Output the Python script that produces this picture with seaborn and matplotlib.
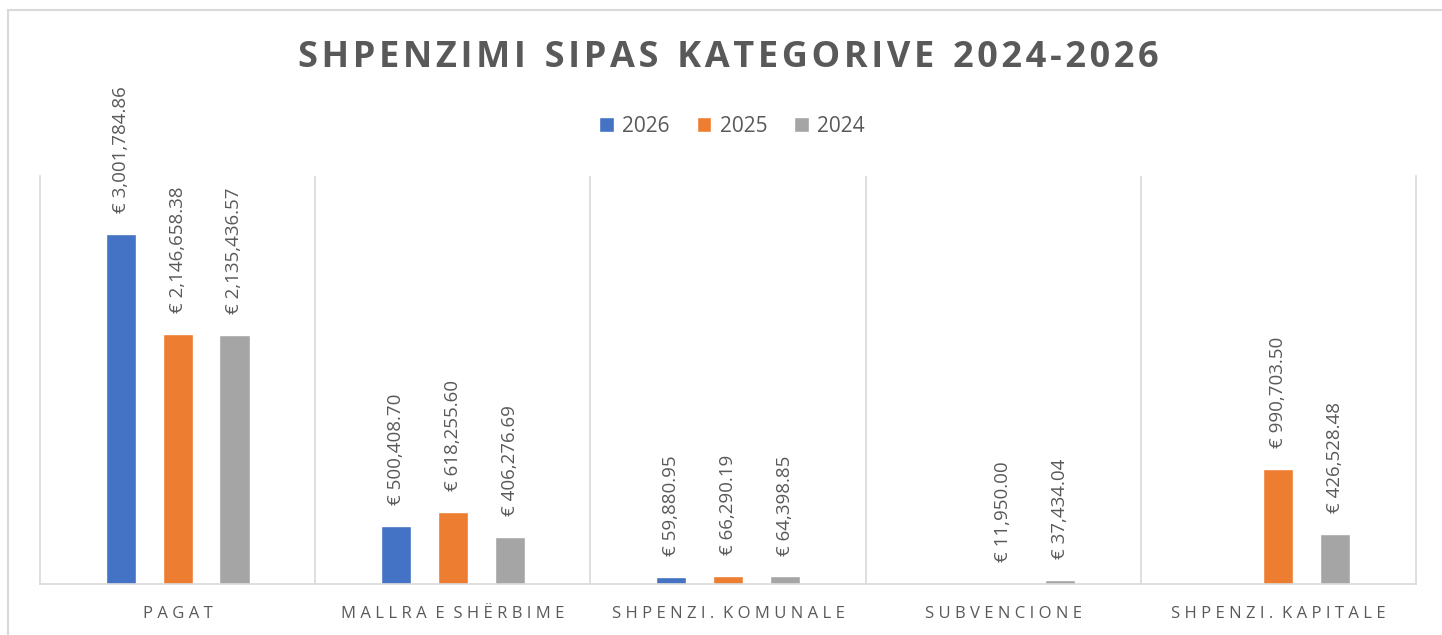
import pandas as pd
import numpy as np
import matplotlib
matplotlib.use("Agg")
import matplotlib.pyplot as plt
from matplotlib.patches import Rectangle
import seaborn as sns

# data
categories = ["PAGAT", "MALLRA E SHËRBIME", "SHPENZI. KOMUNALE", "SUBVENCIONE", "SHPENZI. KAPITALE"]
years = ["2026", "2025", "2024"]
vals_2026 = [3001784.86, 500408.70, 59880.95, np.nan, np.nan]
vals_2025 = [2146658.38, 618255.60, 66290.19, 11950.00, 990703.50]
vals_2024 = [2135436.57, 406276.69, 64398.85, 37434.04, 426528.48]
colors = ["#4472C4", "#ED7D31", "#A5A5A5"]

df = pd.DataFrame({
    "category": categories * 3,
    "year": [y for y in years for _ in categories],
    "value": vals_2026 + vals_2025 + vals_2024,
})

sns.set_theme(style="white")
plt.rcParams["font.family"] = ["Open Sans", "DejaVu Sans"]
TXT = "#595959"

def spaced(s, sep="\u2009", wsep="  "):
    # fake letter spacing
    return wsep.join(sep.join(w) for w in s.split(" "))

fig = plt.figure(figsize=(14.42, 6.35), dpi=100)
ax = fig.add_axes([40 / 1442, 1 - 584 / 635, (1416 - 40) / 1442, (584 - 176) / 635])

sns.barplot(data=df, x="category", y="value", hue="year", hue_order=years,
            order=categories, palette=colors, width=0.62, gap=0.47,
            dodge=True, ax=ax, legend=True, saturation=1)

for c in ax.containers:
    ax.bar_label(c, fmt=lambda v: f"€ {v:,.2f}", rotation=90, padding=15,
                 fontsize=13.5, color=TXT)

ax.set_ylim(0, 3.5e6)
ax.set_xlim(-0.5, len(categories) - 0.5)
ax.set_yticks([])
ax.set_xlabel("")
ax.set_ylabel("")
ax.set_xticks(range(len(categories)))
ax.set_xticklabels([spaced(c, "\u2009\u200a", "  ") for c in categories], fontsize=12, color=TXT)
ax.tick_params(axis="x", length=0, pad=16)

# category separators
for x in np.arange(0.5, len(categories) - 0.5, 1):
    ax.axvline(x, color="#D9D9D9", lw=1.2, zorder=0)
ax.spines["top"].set_visible(False)
for side in ["left", "right", "bottom"]:
    ax.spines[side].set_color("#D9D9D9")
    ax.spines[side].set_linewidth(1.2)

ax.legend(loc="center", bbox_to_anchor=(732 / 1442, 1 - 126 / 635),
          bbox_transform=fig.transFigure, ncol=3, frameon=False,
          fontsize=15, handlelength=0.7, handleheight=0.7, handletextpad=0.4,
          columnspacing=1.3, labelcolor=TXT)

fig.text(728 / 1442, 1 - 58 / 635, spaced("SHPENZIMI SIPAS KATEGORIVE 2024-2026", "\u200a", "  "),
         ha="center", va="center", fontsize=26, fontweight="bold", color=TXT)

# chart border
fig.patches.append(Rectangle((8 / 1442, -0.5), 2, 1.5 - 10 / 635, transform=fig.transFigure,
                             fill=False, edgecolor="#D9D9D9", lw=1.5))

fig.savefig("out.png", dpi=100)
